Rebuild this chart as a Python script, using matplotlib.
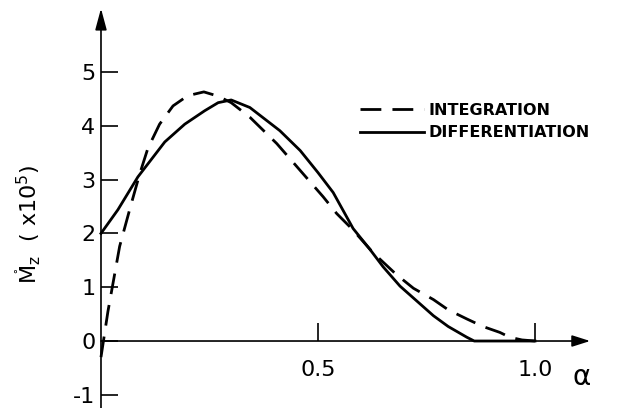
import matplotlib.pyplot as plt

plt.rcParams['font.family'] = 'DejaVu Sans'
plt.rcParams['mathtext.fontset'] = 'dejavusans'
plt.rcParams['axes.unicode_minus'] = False

# integration result (dashed)
alpha_int = [0.0, 0.016, 0.043, 0.068, 0.089, 0.108, 0.135, 0.166, 0.20, 0.237,
             0.27, 0.30, 0.343, 0.405, 0.459, 0.512, 0.543, 0.58, 0.627, 0.68,
             0.72, 0.766, 0.80, 0.843, 0.88, 0.919, 0.942, 0.97, 1.0]
mz_int = [-0.3, 0.55, 1.76, 2.5, 3.1, 3.58, 4.03, 4.37, 4.56, 4.63,
          4.55, 4.43, 4.16, 3.67, 3.17, 2.68, 2.37, 2.07, 1.64, 1.24,
          0.98, 0.77, 0.58, 0.41, 0.27, 0.16, 0.07, 0.02, 0.0]

# differentiation result (solid)
alpha_diff = [0.0, 0.039, 0.085, 0.147, 0.193, 0.239, 0.27, 0.30, 0.343, 0.412,
              0.459, 0.50, 0.535, 0.581, 0.62, 0.65, 0.689, 0.766, 0.80, 0.843,
              0.86, 0.9, 1.0]
mz_diff = [2.0, 2.44, 3.05, 3.70, 4.03, 4.28, 4.43, 4.48, 4.34, 3.91,
           3.54, 3.13, 2.76, 2.09, 1.7, 1.38, 1.02, 0.47, 0.27, 0.07,
           0.0, 0.0, 0.0]

y_ticks = [-1, 0, 1, 2, 3, 4, 5]
x_ticks = [0.5, 1.0]
x_tick_labels = ['0.5', '1.0']

fig = plt.figure(figsize=(6.23, 4.08), dpi=100)
ax = fig.add_axes([0, 0, 1, 1])
ax.set_xlim(-0.2327, 1.2028)
ax.set_ylim(-1.245, 6.338)

# axes through the origin, drawn as arrows
for s in ax.spines.values():
    s.set_visible(False)
ax.spines['left'].set_position(('data', 0))
ax.spines['bottom'].set_position(('data', 0))
ax.annotate('', xy=(1.127, 0), xytext=(0, 0),
            arrowprops=dict(arrowstyle='-|>,head_length=1.1,head_width=0.35',
                            color='black', lw=1.2, shrinkA=0, shrinkB=0))
ax.annotate('', xy=(0, 6.18), xytext=(0, -1.25),
            arrowprops=dict(arrowstyle='-|>,head_length=1.3,head_width=0.35',
                            color='black', lw=1.2, shrinkA=0, shrinkB=0))

ax.set_yticks(y_ticks)
ax.set_xticks(x_ticks, x_tick_labels)
ax.tick_params(axis='y', direction='in', length=12, width=1.2, labelsize=16, pad=4)
ax.tick_params(axis='x', direction='in', length=13, width=1.2, labelsize=16, pad=14)

ax.plot(alpha_int, mz_int, color='black', lw=2.0, dashes=(7.5, 4.0),
        label='INTEGRATION')
ax.plot(alpha_diff, mz_diff, color='black', lw=2.0, label='DIFFERENTIATION')

ax.text(1.108, -0.66, 'α', fontsize=20, ha='center', va='center')

ax.text(28 / 623, 1 - 224 / 408,
        r'$\mathring{\mathrm{M}}_{\mathrm{z}}$  ( x10$^{5}$)',
        transform=fig.transFigure, rotation=90, fontsize=16,
        ha='center', va='center')

leg = ax.legend(loc='upper left', bbox_to_anchor=(360 / 623, 1 - 103 / 408),
                bbox_transform=fig.transFigure, frameon=False, borderpad=0,
                borderaxespad=0, handlelength=4.0, handletextpad=0.3,
                labelspacing=0.45, prop={'weight': 'bold', 'size': 11.5})

fig.savefig('out.png', dpi=100)
